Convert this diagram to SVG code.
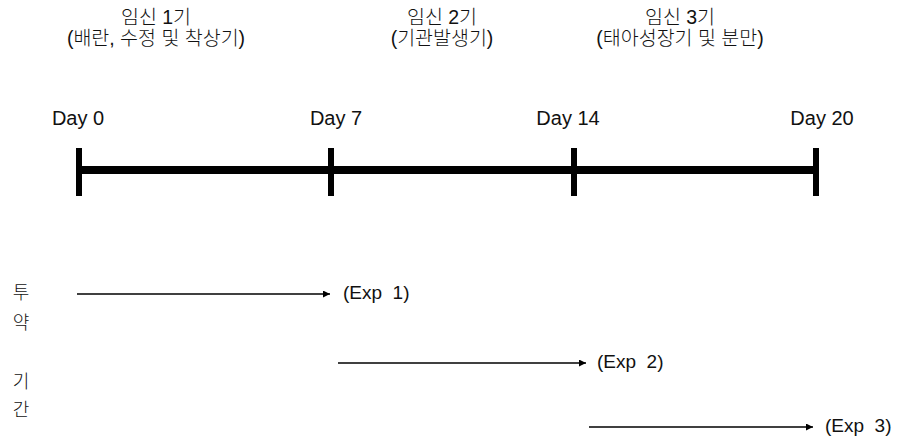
<svg xmlns="http://www.w3.org/2000/svg" width="902" height="441" viewBox="0 0 902 441">
<defs>
<style>
.kr{font-family:"Liberation Sans","Noto Sans CJK KR",sans-serif;font-size:19.5px;font-weight:300;fill:#111;text-anchor:middle}
.day{font-family:"Liberation Sans",sans-serif;font-size:20px;fill:#111;text-anchor:middle}
.exp{font-family:"Liberation Sans",sans-serif;font-size:19px;fill:#111}
.side{font-family:"Noto Sans CJK KR",sans-serif;font-size:18px;font-weight:300;fill:#111;text-anchor:middle}
.bar{stroke:#000;stroke-width:8;fill:none}
.tick{stroke:#000;stroke-width:6;fill:none}
.arr{stroke:#000;stroke-width:1.3;fill:none;marker-end:url(#ah)}
</style>
<marker id="ah" viewBox="0 0 10 10" refX="10" refY="5" markerWidth="8" markerHeight="7" markerUnits="userSpaceOnUse" orient="auto">
<path d="M0,0 L10,5 L0,10 Z" fill="#000"/>
</marker>
</defs>
<rect width="902" height="441" fill="#fff"/>
<g id="phase1"><text class="kr" x="156" y="24">임신 1기</text><text class="kr" x="156" y="45">(배란, 수정 및 착상기)</text></g>
<g id="phase2"><text class="kr" x="442" y="24">임신 2기</text><text class="kr" x="442" y="45">(기관발생기)</text></g>
<g id="phase3"><text class="kr" x="680" y="24">임신 3기</text><text class="kr" x="680" y="45">(태아성장기 및 분만)</text></g>
<g id="timeline">
<line class="bar" x1="78" y1="170" x2="818" y2="170"/>
<line class="tick" x1="79" y1="148" x2="79" y2="196"/>
<line class="tick" x1="331" y1="148" x2="331" y2="196"/>
<line class="tick" x1="574" y1="148" x2="574" y2="196"/>
<line class="tick" x1="816" y1="148" x2="816" y2="196"/>
</g>
<g id="day0"><text class="day" x="78" y="125">Day 0</text></g>
<g id="day7"><text class="day" x="336" y="125">Day 7</text></g>
<g id="day14"><text class="day" x="568" y="125">Day 14</text></g>
<g id="day20"><text class="day" x="822" y="125">Day 20</text></g>
<g id="side"><text class="side" x="21" y="299">투</text><text class="side" x="21" y="329">약</text><text class="side" x="21" y="388">기</text><text class="side" x="21" y="416">간</text></g>
<g id="connectors">
<line class="arr" x1="77" y1="294" x2="330" y2="294"/>
<line class="arr" x1="338" y1="363" x2="586" y2="363"/>
<line class="arr" x1="589" y1="427" x2="813" y2="427"/>
</g>
<g id="exp1"><text class="exp" x="343" y="299" xml:space="preserve">(Exp  1)</text></g>
<g id="exp2"><text class="exp" x="597" y="368" xml:space="preserve">(Exp  2)</text></g>
<g id="exp3"><text class="exp" x="825" y="432" xml:space="preserve">(Exp  3)</text></g>
</svg>
